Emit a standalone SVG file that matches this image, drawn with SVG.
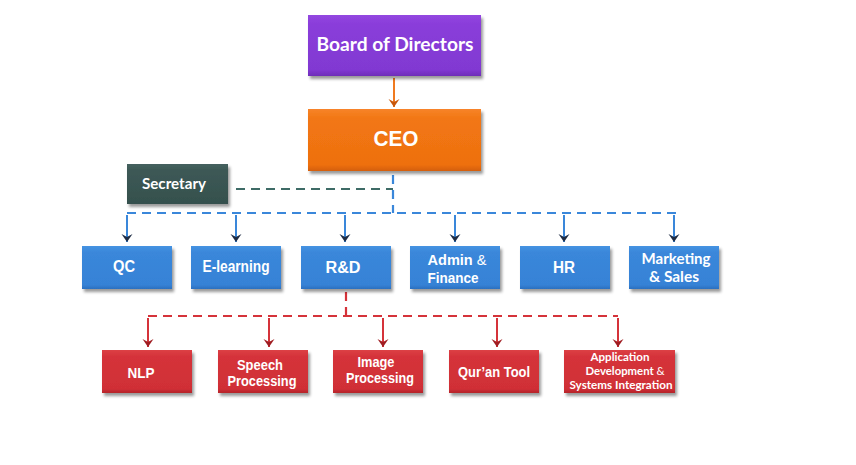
<svg xmlns="http://www.w3.org/2000/svg" width="856" height="465" viewBox="0 0 856 465">
<style>
.t{fill:#fff;font-weight:bold;text-anchor:middle}
.a{font-family:"Liberation Sans",Arial,sans-serif}
.c{font-family:Lato,"Open Sans",sans-serif}
.box{filter:url(#sh)}
.dashB{stroke:#3A87DA;stroke-width:2.2;stroke-dasharray:9 6;fill:none}
.dashR{stroke:#D5333A;stroke-width:2.2;stroke-dasharray:9 6;fill:none}
.dashG{stroke:#3E6B66;stroke-width:2.2;stroke-dasharray:9 6;fill:none}
.shB{stroke:#3A87DA;stroke-width:2;fill:none;marker-end:url(#mB)}
.shR{stroke:#D5333A;stroke-width:2;fill:none;marker-end:url(#mR)}
.shO{stroke:#F07A20;stroke-width:2;fill:none;marker-end:url(#mO)}
</style>
<defs>
<filter id="sh" x="-10%" y="-10%" width="125%" height="135%">
<feDropShadow dx="2" dy="3" stdDeviation="1.6" flood-color="#000" flood-opacity="0.4"/>
</filter>
<linearGradient id="gP" x1="0" y1="0" x2="0" y2="1"><stop offset="0" stop-color="#9347E0"/><stop offset="0.15" stop-color="#8A3DDA"/><stop offset="0.9" stop-color="#8139D2"/><stop offset="1" stop-color="#6E2DB8"/></linearGradient>
<linearGradient id="gO" x1="0" y1="0" x2="0" y2="1"><stop offset="0" stop-color="#F7842A"/><stop offset="0.15" stop-color="#F27713"/><stop offset="0.9" stop-color="#EE7010"/><stop offset="1" stop-color="#D45E08"/></linearGradient>
<linearGradient id="gS" x1="0" y1="0" x2="0" y2="1"><stop offset="0" stop-color="#46625F"/><stop offset="0.15" stop-color="#3D5956"/><stop offset="1" stop-color="#35504D"/></linearGradient>
<linearGradient id="gB" x1="0" y1="0" x2="0" y2="1"><stop offset="0" stop-color="#4593E2"/><stop offset="0.15" stop-color="#3A87DA"/><stop offset="0.9" stop-color="#3682D6"/><stop offset="1" stop-color="#2B70C0"/></linearGradient>
<linearGradient id="gR" x1="0" y1="0" x2="0" y2="1"><stop offset="0" stop-color="#DC4045"/><stop offset="0.15" stop-color="#D5333A"/><stop offset="0.9" stop-color="#D02F36"/><stop offset="1" stop-color="#B5242B"/></linearGradient>
<marker id="mB" markerUnits="userSpaceOnUse" markerWidth="10" markerHeight="13" refX="9" refY="6.5" orient="auto" viewBox="0 0 10 13"><path d="M1,1 L9,6.5 L1,12 L4,6.5 Z" fill="#1E2C45"/></marker>
<marker id="mR" markerUnits="userSpaceOnUse" markerWidth="10" markerHeight="13" refX="9" refY="6.5" orient="auto" viewBox="0 0 10 13"><path d="M1,1 L9,6.5 L1,12 L4,6.5 Z" fill="#A01D22"/></marker>
<marker id="mO" markerUnits="userSpaceOnUse" markerWidth="10" markerHeight="13" refX="9" refY="6.5" orient="auto" viewBox="0 0 10 13"><path d="M1,1 L9,6.5 L1,12 L4,6.5 Z" fill="#C8570C"/></marker>
</defs>
<rect width="856" height="465" fill="#fff"/>

<g id="connectors">
<path class="shO" d="M394,78 V107"/>
<path class="dashG" d="M236,189 H393"/>
<path class="dashB" d="M393,175 V213"/>
<path class="dashB" d="M127,213 H680"/>
<path class="shB" d="M127,215 V242"/>
<path class="shB" d="M236,215 V242"/>
<path class="shB" d="M345,215 V242"/>
<path class="shB" d="M455,215 V242"/>
<path class="shB" d="M564,215 V242"/>
<path class="shB" d="M674,215 V242"/>
<path class="dashR" d="M346,292 V316"/>
<path class="dashR" d="M148,316 H618"/>
<path class="shR" d="M148,318 V347"/>
<path class="shR" d="M269,318 V347"/>
<path class="shR" d="M383,318 V347"/>
<path class="shR" d="M497,318 V347"/>
<path class="shR" d="M618,318 V347"/>
</g>

<g id="board"><rect class="box" x="308" y="15" width="173" height="61" fill="url(#gP)"/>
<text class="t c" x="395" y="51" font-size="19" textLength="157" lengthAdjust="spacingAndGlyphs">Board of Directors</text></g>
<g id="ceo"><rect class="box" x="308" y="109" width="173" height="62" fill="url(#gO)"/>
<text class="t a" x="396" y="146" font-size="22" textLength="45" lengthAdjust="spacingAndGlyphs">CEO</text></g>
<g id="secretary"><rect class="box" x="127" y="164" width="101" height="40" fill="url(#gS)"/>
<text class="t c" x="174" y="189" font-size="14.5" textLength="64" lengthAdjust="spacingAndGlyphs">Secretary</text></g>

<g id="qc"><rect class="box" x="82" y="246" width="90" height="43" fill="url(#gB)"/>
<text class="t a" x="124" y="272" font-size="16" textLength="22" lengthAdjust="spacingAndGlyphs">QC</text></g>
<g id="elearning"><rect class="box" x="191" y="246" width="90" height="43" fill="url(#gB)"/>
<text class="t a" x="236" y="272" font-size="16" textLength="67" lengthAdjust="spacingAndGlyphs">E-learning</text></g>
<g id="rd"><rect class="box" x="301" y="246" width="90" height="43" fill="url(#gB)"/>
<text class="t a" x="343" y="273" font-size="16" textLength="35" lengthAdjust="spacingAndGlyphs">R&amp;D</text></g>
<g id="admin"><rect class="box" x="410" y="246" width="90" height="43" fill="url(#gB)"/>
<text class="t a" x="457" y="265" font-size="15" textLength="59" lengthAdjust="spacingAndGlyphs">Admin <tspan font-weight="normal">&amp;</tspan></text>
<text class="t a" x="453" y="283" font-size="15" textLength="51" lengthAdjust="spacingAndGlyphs">Finance</text></g>
<g id="hr"><rect class="box" x="520" y="246" width="90" height="43" fill="url(#gB)"/>
<text class="t a" x="564" y="273" font-size="16" textLength="22" lengthAdjust="spacingAndGlyphs">HR</text></g>
<g id="marketing"><rect class="box" x="629" y="246" width="90" height="43" fill="url(#gB)"/>
<text class="t c" x="676" y="264" font-size="15" textLength="69" lengthAdjust="spacingAndGlyphs">Marketing</text>
<text class="t c" x="674" y="282" font-size="15" textLength="50" lengthAdjust="spacingAndGlyphs">&amp; Sales</text></g>

<g id="nlp"><rect class="box" x="102" y="350" width="90" height="43" fill="url(#gR)"/>
<text class="t a" x="141" y="378" font-size="15" textLength="27" lengthAdjust="spacingAndGlyphs">NLP</text></g>
<g id="speech"><rect class="box" x="218" y="350" width="90" height="43" fill="url(#gR)"/>
<text class="t a" x="260" y="370" font-size="14.5" textLength="46" lengthAdjust="spacingAndGlyphs">Speech</text>
<text class="t a" x="262" y="386" font-size="14.5" textLength="69" lengthAdjust="spacingAndGlyphs">Processing</text></g>
<g id="image"><rect class="box" x="333" y="350" width="90" height="43" fill="url(#gR)"/>
<text class="t a" x="376" y="367" font-size="14.5" textLength="37" lengthAdjust="spacingAndGlyphs">Image</text>
<text class="t a" x="380" y="383" font-size="14.5" textLength="68" lengthAdjust="spacingAndGlyphs">Processing</text></g>
<g id="quran"><rect class="box" x="449" y="350" width="90" height="43" fill="url(#gR)"/>
<text class="t a" x="494" y="377" font-size="15" textLength="72" lengthAdjust="spacingAndGlyphs">Qur’an Tool</text></g>
<g id="appdev"><rect class="box" x="564" y="350" width="111" height="43" fill="url(#gR)"/>
<text class="t c" x="620" y="361" font-size="11.5" textLength="59" lengthAdjust="spacingAndGlyphs">Application</text>
<text class="t c" x="625" y="375" font-size="11.5" textLength="79" lengthAdjust="spacingAndGlyphs">Development <tspan font-weight="normal">&amp;</tspan></text>
<text class="t c" x="621" y="389" font-size="11.5" textLength="103" lengthAdjust="spacingAndGlyphs">Systems Integration</text></g>
</svg>
